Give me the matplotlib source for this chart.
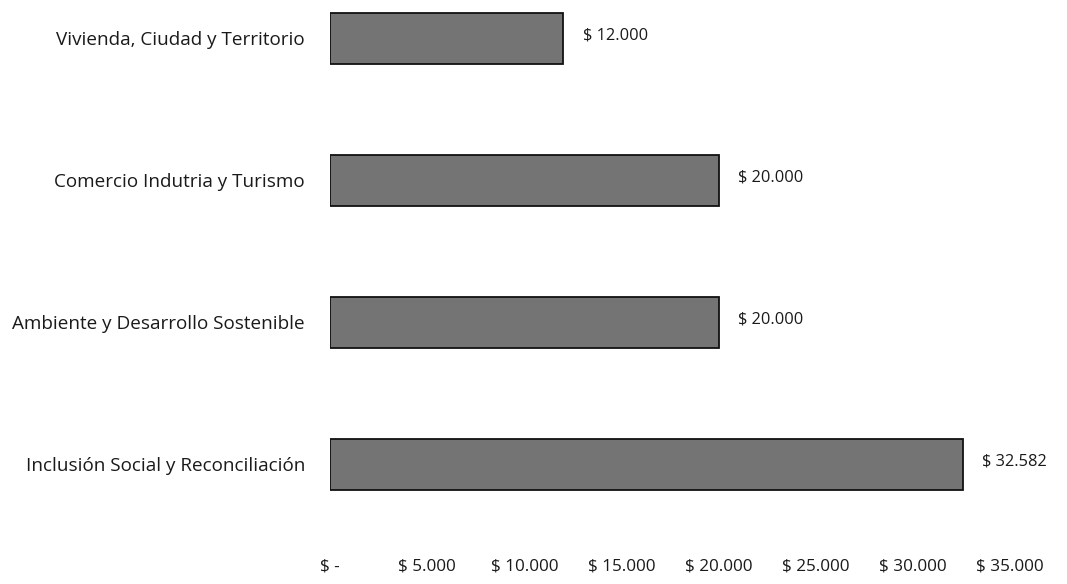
import matplotlib
matplotlib.use("Agg")
import matplotlib.pyplot as plt

categories = ["Vivienda, Ciudad y Territorio",
              "Comercio Indutria y Turismo",
              "Ambiente y Desarrollo Sostenible",
              "Inclusión Social y Reconciliación"]
values = [12000, 20000, 20000, 32582]
value_labels = ["$ 12.000", "$ 20.000", "$ 20.000", "$ 32.582"]
x_ticks = [0, 5000, 10000, 15000, 20000, 25000, 30000, 35000]
x_tick_labels = ["$ -", "$ 5.000", "$ 10.000", "$ 15.000", "$ 20.000",
                 "$ 25.000", "$ 30.000", "$ 35.000"]

plt.rcParams['font.family'] = ['Open Sans', 'DejaVu Sans']

W, H = 1067, 584
fig = plt.figure(figsize=(W / 100, H / 100), dpi=100)
left_px, right_px, top_px, bottom_px = 330, 1010, 0, 535
ax = fig.add_axes([left_px / W, (H - bottom_px) / H,
                   (right_px - left_px) / W, (bottom_px - top_px) / H])

pos = list(range(len(categories)))
ax.barh(pos, values, height=0.36, color="#747474", edgecolor="#111111",
        linewidth=1.3)

for p, v, lab in zip(pos, values, value_labels):
    ax.annotate(lab, xy=(v, p), xytext=(14, 2), textcoords="offset points",
                ha="left", va="center", fontsize=11.8, color="#1a1a1a")

ax.set_xlim(0, 35000)
ax.set_ylim(3.50, -0.27)
ax.set_yticks(pos)
ax.set_yticklabels(categories, fontsize=13.6, color="#1a1a1a")
ax.set_xticks(x_ticks)
ax.set_xticklabels(x_tick_labels, fontsize=12.3, color="#1a1a1a")
ax.tick_params(axis="y", length=0, pad=18)
ax.tick_params(axis="x", length=0, pad=17)
for s in ax.spines.values():
    s.set_visible(False)

fig.savefig("out.png", dpi=100, facecolor="white")
